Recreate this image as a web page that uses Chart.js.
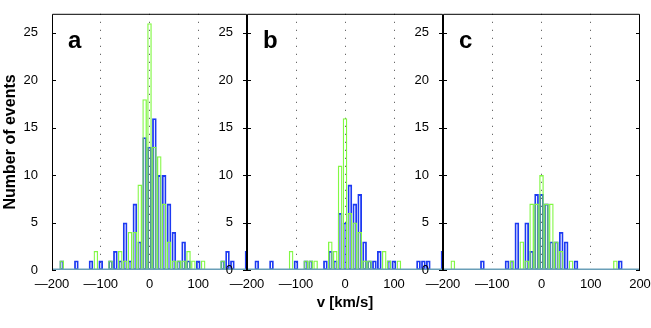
<!DOCTYPE html>
<html>
<head>
<meta charset="utf-8">
<script src="https://cdn.jsdelivr.net/npm/chart.js@4"></script>
<style>
  html, body { margin: 0; padding: 0; background: #fff; overflow: hidden; }
  #wrap { position: relative; width: 651px; height: 328px; overflow: hidden; }
  canvas { position: absolute; top: 0; }
</style>
</head>
<body>
<div id="wrap">
  <canvas id="panelA" width="261" height="328" style="left:0px"></canvas>
  <canvas id="panelB" width="261" height="328" style="left:195px"></canvas>
  <canvas id="panelC" width="290" height="328" style="left:391px"></canvas>
</div>
<script>
// bin centres, km/s
const binCenters = [-200, -190, -180, -170, -160, -150, -140, -130, -120, -110,
  -100, -90, -80, -70, -60, -50, -40, -30, -20, -10,
  0, 10, 20, 30, 40, 50, 60, 70, 80, 90,
  100, 110, 120, 130, 140, 150, 160, 170, 180, 190, 200];

const blueA  = [0,0,1,0,0,1,0,0,1,0, 1,0,1,2,1,5,1,7,3,14, 13,16,10,10,7,4,1,3,1,0, 1,0,0,0,0,1,2,1,0,0, 2];
const greenA = [0,0,1,0,0,0,0,0,0,2, 0,0,1,0,2,1,4,4,9,18, 26,13,12,7,3,1,1,1,2,1, 0,1,0,0,0,1,0,0,0,0, 0];
const blueB  = [0,0,1,0,0,1,0,0,0,0, 1,0,1,1,0,0,1,2,1,6, 5,9,7,8,3,1,1,2,0,1, 1,0,0,0,0,1,1,1,0,0, 2];
const greenB = [0,0,0,0,0,0,0,0,0,2, 0,0,1,1,1,0,0,3,2,11, 16,6,5,4,1,1,0,0,2,1, 0,1,0,0,0,0,0,0,0,0, 0];
const blueC  = [0,0,0,0,0,0,0,0,1,0, 0,0,0,1,1,5,0,5,2,8, 8,7,3,3,4,3,0,1,0,0, 0,0,0,0,0,0,1,0,0,0, 0];
const greenC = [0,0,1,0,0,0,0,0,0,0, 0,0,0,0,1,0,3,1,7,7, 10,7,7,3,2,0,1,0,0,0, 0,0,0,0,0,1,0,0,0,0, 0];

const yTicks = [0, 5, 10, 15, 20, 25];
const dottedAt = [-100, 0, 100];

const BLUE = '#1d3af2';
const GREEN = '#82f844';
const FONT = "'Liberation Sans', Arial, Helvetica, sans-serif";

Chart.defaults.font.family = FONT;
Chart.defaults.color = '#000';

// long minus like the original figure
function fmt(v) {
  return v < 0 ? '\u2014' + (-v) : String(v);
}

// box, inward ticks, baseline and panel letter
const framePlugin = {
  id: 'frame',
  afterDatasetsDraw(chart, args, opts) {
    const { ctx, chartArea } = chart;
    const { left, right, top, bottom } = chartArea;
    const y = chart.scales.y;
    ctx.save();
    ctx.strokeStyle = '#6a9fb8';
    ctx.lineWidth = 1.5;
    ctx.beginPath();
    ctx.moveTo(left, bottom - 0.75);
    ctx.lineTo(right, bottom - 0.75);
    ctx.stroke();

    ctx.strokeStyle = '#000';
    ctx.lineWidth = 1;
    ctx.beginPath();
    ctx.moveTo(left + 0.5, bottom);
    ctx.lineTo(left + 0.5, top + 0.5);
    ctx.lineTo(right - 0.5, top + 0.5);
    ctx.lineTo(right - 0.5, bottom);
    yTicks.forEach((v) => {
      const py = Math.round(y.getPixelForValue(v)) + 0.5;
      ctx.moveTo(left, py);
      ctx.lineTo(left + 4, py);
      ctx.moveTo(right, py);
      ctx.lineTo(right - 4, py);
    });
    ctx.stroke();

    ctx.fillStyle = '#000';
    ctx.font = 'bold 24px ' + FONT;
    ctx.textBaseline = 'alphabetic';
    ctx.fillText(opts.letter, left + 16, top + 34);
    ctx.restore();
  }
};

function series(counts, color, width, order) {
  return {
    data: binCenters.map((x, i) => ({ x, y: counts[i] })),
    borderColor: color,
    backgroundColor: 'rgba(0,0,0,0)',
    borderWidth: width,
    borderSkipped: false,
    grouped: false,
    categoryPercentage: 1,
    barPercentage: 0.94,
    clip: 0,
    order
  };
}

function makePanel(canvasId, letter, blue, green, cfg) {
  return new Chart(document.getElementById(canvasId), {
    type: 'bar',
    data: {
      datasets: [
        series(blue, BLUE, 1.8, 2),
        series(green, GREEN, 1.3, 1)
      ]
    },
    options: {
      responsive: false,
      animation: false,
      layout: { padding: { left: 0, right: cfg.padRight, top: 10, bottom: 0 } },
      plugins: {
        legend: { display: false },
        tooltip: { enabled: false },
        frame: { letter }
      },
      scales: {
        x: {
          type: 'linear',
          min: -200,
          max: 200,
          offset: false,
          grid: {
            offset: false,
            drawTicks: false,
            lineWidth: 1,
            color: (c) => (c.tick && dottedAt.includes(c.tick.value)) ? '#444' : 'rgba(0,0,0,0)'
          },
          border: { display: false, dash: [1, 7] },
          ticks: {
            stepSize: 100,
            autoSkip: false,
            maxRotation: 0,
            padding: 7,
            font: { size: 13 },
            callback: (v) => (v === 200 && !cfg.lastLabel) ? '' : fmt(v)
          },
          title: {
            display: !!cfg.xTitle,
            text: 'v [km/s]',
            font: { size: 15, weight: 'bold' },
            padding: { top: 0, bottom: 16 }
          },
          afterFit: (s) => { s.height = 58; }
        },
        y: {
          min: 0,
          max: 27,
          grid: { display: false },
          border: { display: false },
          ticks: {
            stepSize: 5,
            includeBounds: false,
            padding: 6,
            font: { size: 13 }
          },
          title: {
            display: !!cfg.yTitle,
            text: 'Number of events',
            font: { size: 16, weight: 'bold' },
            padding: { top: 1, bottom: 0 }
          },
          afterFit: (s) => { s.width = 52; }
        }
      }
    },
    plugins: [framePlugin]
  });
}

makePanel('panelA', 'a', blueA, greenA, { padRight: 14, yTitle: true });
makePanel('panelB', 'b', blueB, greenB, { padRight: 13, xTitle: true });
makePanel('panelC', 'c', blueC, greenC, { padRight: 41, lastLabel: true });
</script>
</body>
</html>
